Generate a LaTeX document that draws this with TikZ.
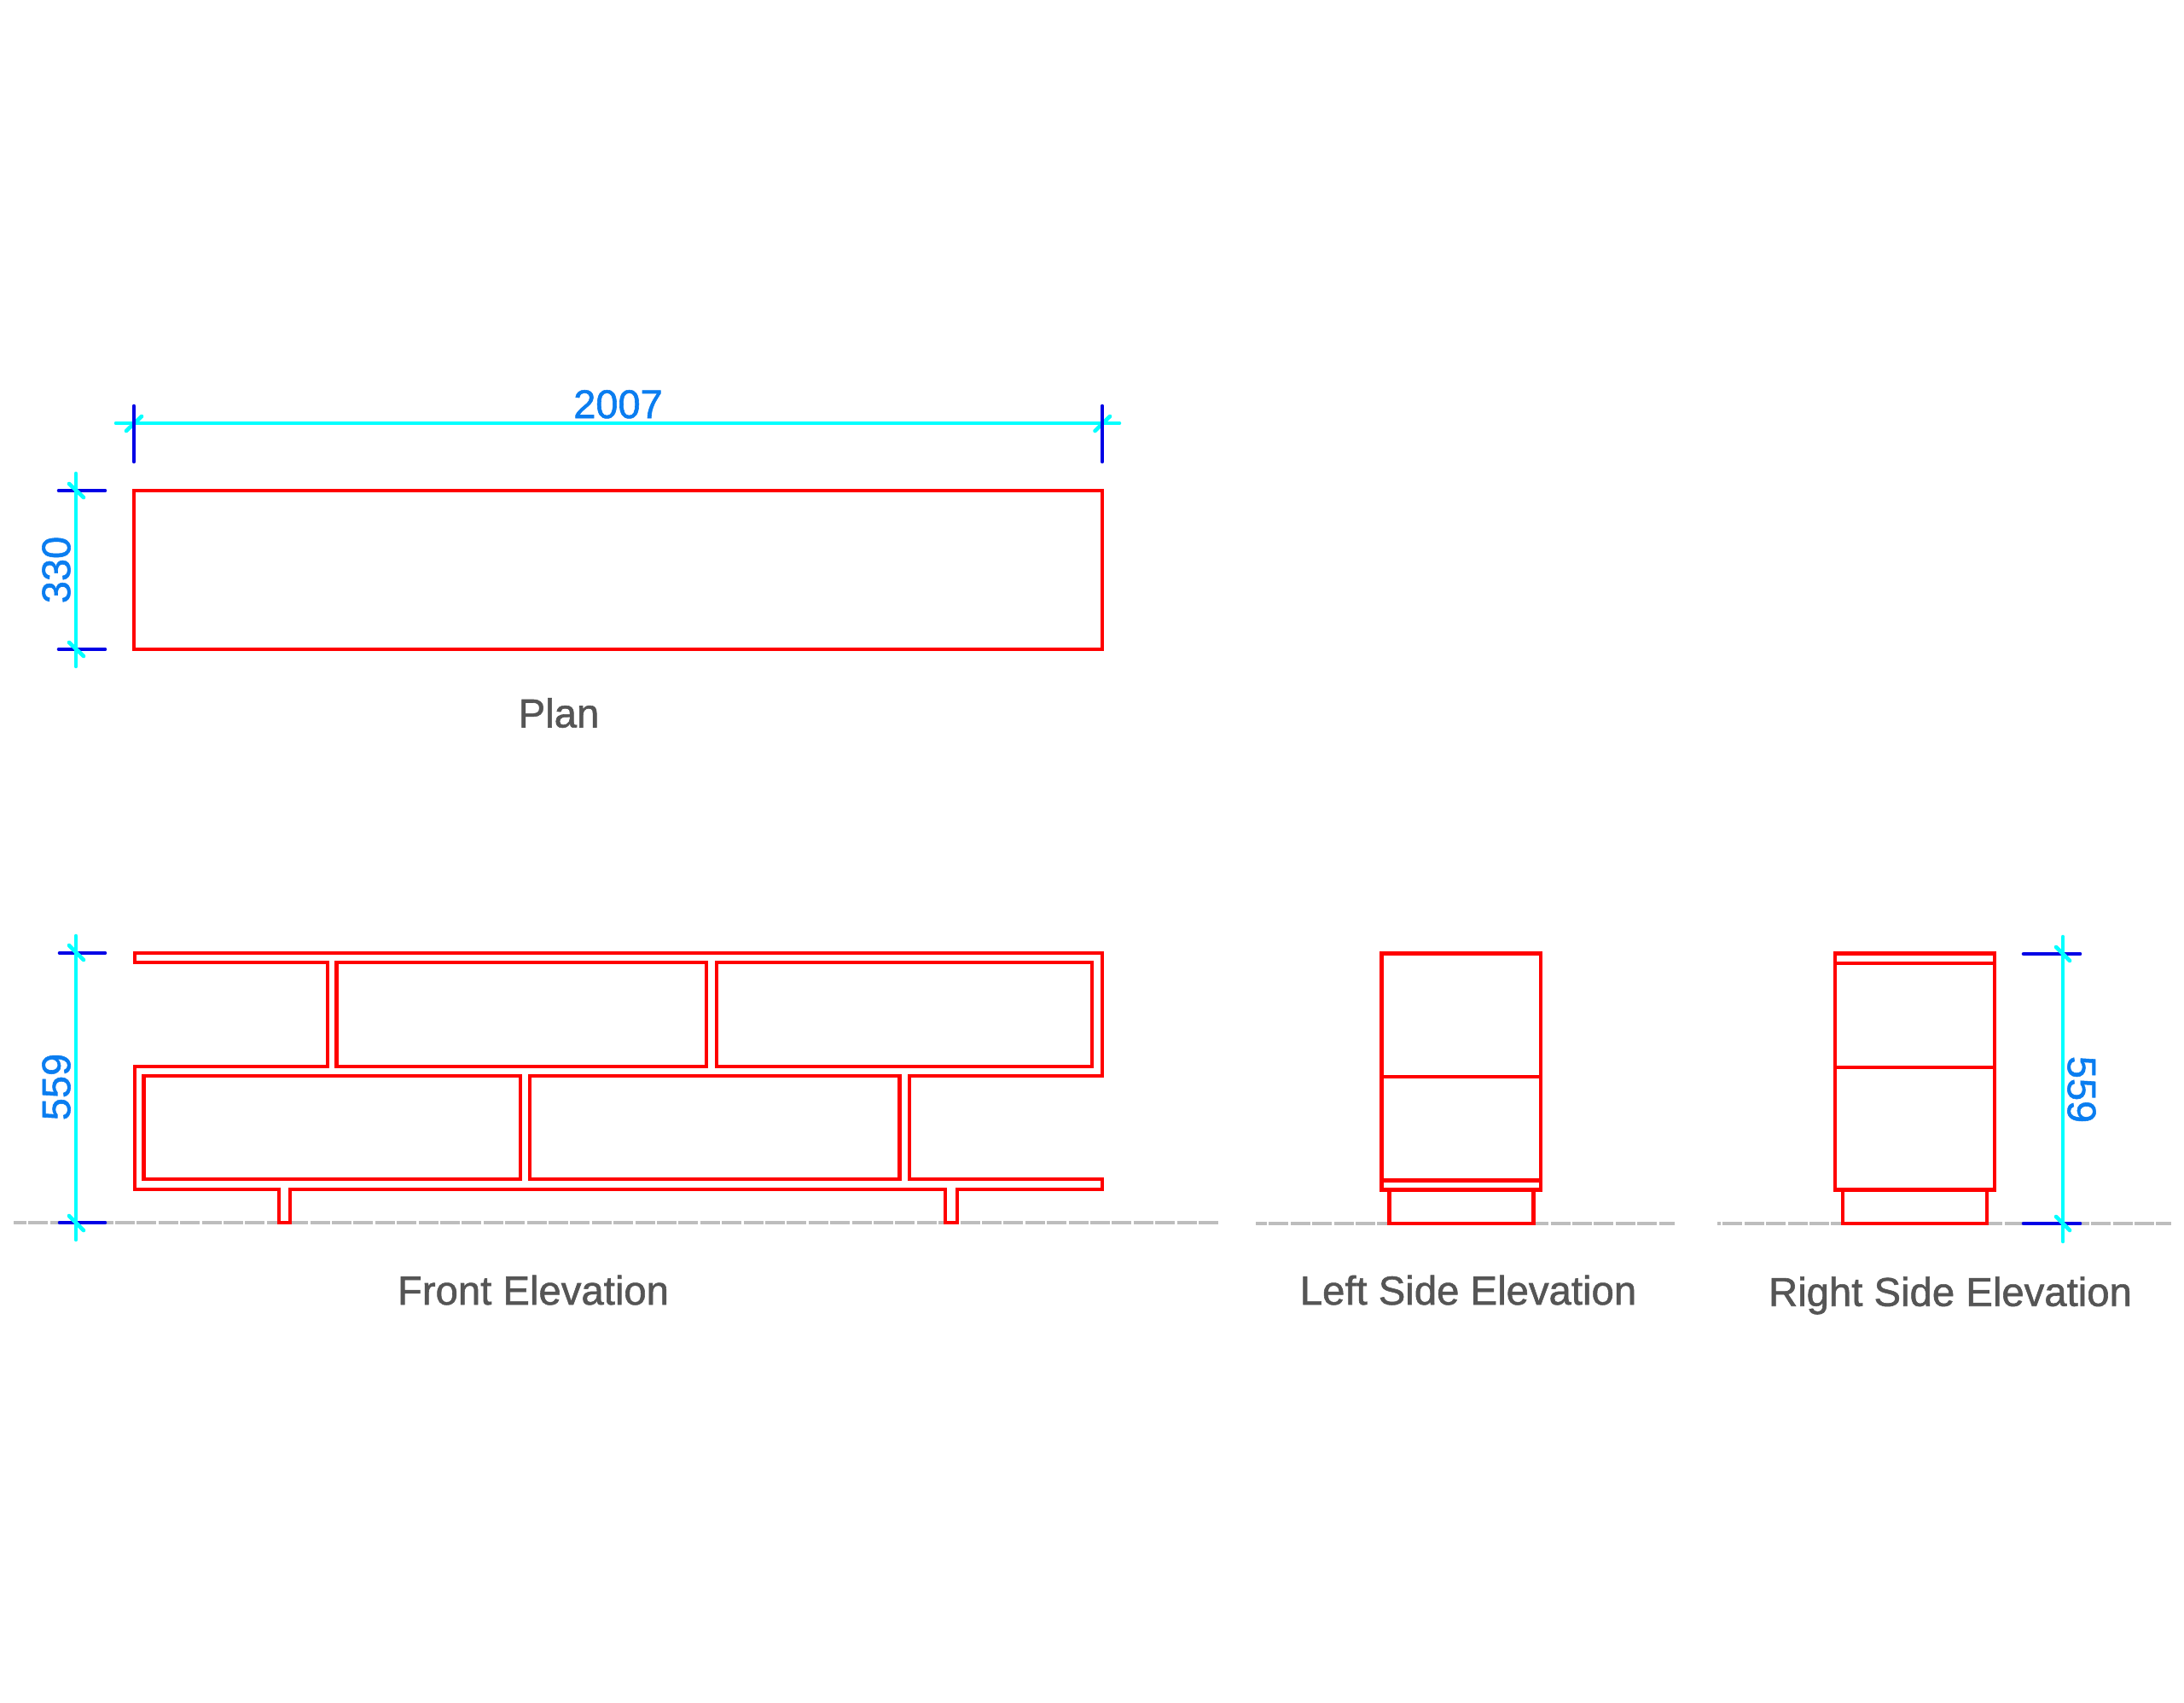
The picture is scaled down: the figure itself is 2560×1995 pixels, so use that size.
\documentclass[tikz,border=0pt]{standalone}
\usepackage{fontspec}
\setmainfont[FakeBold=1.2]{Liberation Sans}
\definecolor{cadred}{HTML}{FF0000}
\definecolor{cadcyan}{HTML}{00FFFF}
\definecolor{cadblue}{HTML}{0000E6}
\definecolor{cadgray}{HTML}{BDBDBD}
\definecolor{dimtext}{HTML}{0A7DF0}
\definecolor{labeltext}{HTML}{555555}
\tikzset{
  x=1pt,y=-1pt,
  outline/.style={draw=cadred,line width=4.6pt,line join=miter},
  dimline/.style={draw=cadcyan,line width=4.6pt,line cap=round},
  extline/.style={draw=cadblue,line width=4.6pt,line cap=round},
  groundline/.style={draw=cadgray,line width=4.6pt,dash pattern=on 23pt off 2.4pt},
  dimlabel/.style={text=dimtext,inner sep=0pt,font=\fontsize{47}{47}\selectfont},
  viewlabel/.style={text=labeltext,inner sep=0pt,anchor=base,font=\fontsize{47.3}{47}\selectfont},
}
\begin{document}
\begin{tikzpicture}
\useasboundingbox (0,0) rectangle (2560,1995);
\fill[white] (0,0) rectangle (2560,1995);
% ground lines
\coordinate (gfa) at (16,1433); \coordinate (gfb) at (1429,1433);
\coordinate (gla) at (1472,1434); \coordinate (glb) at (1963,1434);
\coordinate (gra) at (2013,1434); \coordinate (grb) at (2545,1434);
\draw[groundline,dash phase=8pt] (gfa) -- (gfb);
\draw[groundline,dash phase=10pt] (gla) -- (glb);
\draw[groundline,dash phase=19pt] (gra) -- (grb);
% plan
\draw[outline] (157,575) rectangle (1292,761);
% front elevation
\draw[outline] (158,1117) -- (1292,1117) -- (1292,1261) -- (1066,1261) -- (1066,1382) -- (1292,1382) -- (1292,1394)
  -- (1122,1394) -- (1122,1433) -- (1108,1433) -- (1108,1394) -- (340,1394) -- (340,1433) -- (327,1433) -- (327,1394)
  -- (158,1394) -- (158,1250) -- (384,1250) -- (384,1128) -- (158,1128) -- cycle;
\draw[outline] (394.6,1128) rectangle (828,1250);
\draw[outline] (840,1128) rectangle (1280,1250);
\draw[outline] (168.7,1261) rectangle (610,1382);
\draw[outline] (621,1261) rectangle (1054.5,1382);
% left side elevation
\draw[outline] (1619.5,1117.7) rectangle (1806,1394.7);
\draw[outline] (1619.5,1262) -- (1806,1262);
\draw[outline] (1619.5,1383.7) -- (1806,1383.7);
\draw[outline] (1628.7,1394.7) -- (1628.7,1434) -- (1797.7,1434) -- (1797.7,1394.7);
% right side elevation
\draw[outline] (2151,1117.7) rectangle (2338,1394.7);
\draw[outline] (2151,1129) -- (2338,1129);
\draw[outline] (2151,1251) -- (2338,1251);
\draw[outline] (2160,1394.7) -- (2160,1434) -- (2329,1434) -- (2329,1394.7);
% plan width dimension
\coordinate (wa) at (136,496); \coordinate (wb) at (1312,496);
\draw[dimline] (wa) -- (wb);
\draw[dimline] (148,505) -- (166,488);
\draw[dimline] (1283.5,505) -- (1301,488);
\draw[extline] (157,476) -- (157,541);
\draw[extline] (1292,476) -- (1292,541);
% plan depth dimension
\draw[extline] (69,575) -- (123,575);
\draw[extline] (69,761) -- (123,761);
\coordinate (da) at (89,555); \coordinate (db) at (89,781);
\draw[dimline] (da) -- (db);
\draw[dimline] (81,567) -- (98,583);
\draw[dimline] (81,753) -- (98,769);
% front height dimension
\draw[extline] (70,1117) -- (123,1117);
\draw[extline] (70,1433) -- (123,1433);
\coordinate (fa) at (89,1097); \coordinate (fb) at (89,1453);
\draw[dimline] (fa) -- (fb);
\draw[dimline] (81,1108) -- (98,1125);
\draw[dimline] (81,1425) -- (98,1442);
% right height dimension
\draw[extline] (2372,1118) -- (2438,1118);
\draw[extline] (2372,1434) -- (2438,1434);
\coordinate (ra) at (2418,1098); \coordinate (rb) at (2418,1455);
\draw[dimline] (ra) -- (rb);
\draw[dimline] (2410,1110) -- (2426,1126);
\draw[dimline] (2410,1426) -- (2426,1442);
% dimension values
\node[dimlabel,anchor=base] (t2007) at (724.5,490) {2007};
\node[dimlabel,rotate=90] (t330) at (66,668) {330};
\node[dimlabel,rotate=90] (t559a) at (66,1274) {559};
\node[dimlabel,rotate=-90] (t559b) at (2440,1277) {559};
% view labels
\node[viewlabel] (plan) at (655,852.5) {Plan};
\node[viewlabel] (front) at (625,1529) {Front Elevation};
\node[viewlabel] (left) at (1721,1529) {Left Side Elevation};
\node[viewlabel] (right) at (2286,1530.7) {Right Side Elevation};
\end{tikzpicture}
\end{document}
